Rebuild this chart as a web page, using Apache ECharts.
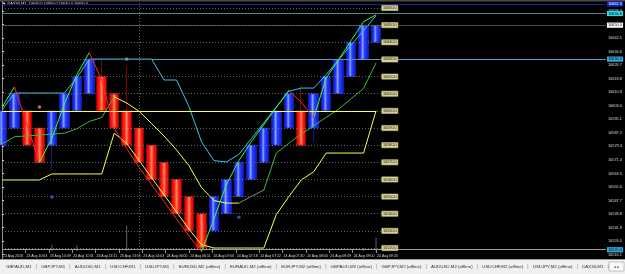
<!DOCTYPE html>
<html>
<head>
<meta charset="utf-8">
<script src="https://cdn.jsdelivr.net/npm/echarts@6/dist/echarts.min.js"></script>
<style>
  html, body { margin: 0; padding: 0; background: #000; }
  #chart { width: 625px; height: 274px; }
</style>
</head>
<body>
<div id="chart"></div>
<script>
// -----------------------------------------------------------------------------
// DAX30,M2 (offline renko) - briques + canaux + niveaux
// -----------------------------------------------------------------------------
const brickOpen = [10580, 10590, 10600, 10590, 10580, 10590, 10600, 10610, 10620, 10610, 10600,
  10590, 10580, 10570, 10560, 10550, 10540, 10530, 10540, 10550, 10560, 10570, 10580, 10590,
  10600, 10590, 10600, 10610, 10620, 10630, 10640];
const brickClose = [10600, 10610, 10580, 10570, 10600, 10610, 10620, 10630, 10600, 10590, 10580,
  10570, 10560, 10550, 10540, 10530, 10520, 10550, 10560, 10570, 10580, 10590, 10600, 10610,
  10580, 10610, 10620, 10630, 10640, 10650, 10650];
// meches visibles (index de brique -> extremite)
const wickBars = [8, 10, 24, 4, 25];
const wickEnds = [10630, 10626, 10615, 10565, 10582];

const zigzagLine = [10602, 10614, 10592, 10570, 10584, 10604, 10621, 10634, 10618, 10590, 10578,
  10567, 10557, 10547, 10537, 10527, 10518, 10537, 10557, 10571, 10582, 10592, 10602, 10612,
  10605, 10596, 10619, 10630, 10641, 10652, 10656];
const zigTurns = [0, 1, 3, 7, 16, 23, 25];   // debut de chaque jambe, la premiere monte

const cyanLine = [10600.5, 10610.4, 10610.4, 10610.4, 10610.4, 10610.4, 10619.2, 10630.2, 10630.2,
  10630.2, 10630.2, 10630.2, 10630.2, 10618, 10618, 10602.4, 10582, 10571, 10570.2, 10574.6,
  10583.8, 10593, 10602.2, 10611.4, 10613.3, 10613.3, 10621.1, 10629.7, 10638.4, 10646.9, 10655.6];

const lowerBand = [10559.7, 10559.7, 10559.7, 10559.7, 10563.2, 10563.2, 10563.2, 10563.2, 10563.2,
  10587, 10581, 10571, 10561, 10551, 10541, 10531, 10522, 10520, 10520, 10520, 10520, 10520,
  10539.5, 10549.9, 10559.7, 10564.5, 10575.4, 10575.4, 10575.4, 10575.4, 10600];

const maLine = [10580.7, 10584.9, 10585.4, 10585.9, 10586.4, 10587, 10589.5, 10593.8, 10596.1,
  10608.2, 10604.6, 10599.7, 10592.6, 10585.3, 10577.2, 10568, 10555.3, 10547.7, 10546.2, 10546.2,
  10550.1, 10553.8, 10575.4, 10581.1, 10586.5, 10591.3, 10596.2, 10601, 10607.1, 10613.1, 10628];
const maTurns = [0, 9, 19, 21];
const maTrend = ["up", "down", "flat", "up"];

const signalBars = [3, 4, 19, 10];
const signalPrices = [10602.2, 10549.7, 10538, 10630.2];

const volumeBars = [4, 6, 10, 29, 30];
const volumeValues = [3, 2.5, 12.5, 1.5, 6.5];

const gridLevels = [10660, 10650, 10640, 10630, 10620, 10610, 10600, 10590, 10580, 10570, 10560,
  10550, 10540, 10530, 10520];
const priceTicks = [10516.1, 10524.0, 10531.9, 10539.8, 10547.7, 10555.6, 10563.5, 10571.4, 10579.3,
  10587.2, 10595.1, 10603.0, 10610.9, 10618.8, 10626.7, 10634.6, 10642.5, 10650.4, 10658.3];
// lignes horizontales pleine largeur: prix + etiquette
const hLinePrices = [10662.3, 10656.8, 10650.0, 10630.2, 10519.0];
const hLineLabels = ["10662.3", "10656.8", "10650.0", "10630.2", "10520.0"];

const timeLabels = ["23 Aug 2016", "23 Aug 10:03", "23 Aug 10:49", "23 Aug 11:31", "23 Aug 13:11",
  "23 Aug 13:55", "23 Aug 14:03", "24 Aug 06:00", "24 Aug 06:11", "24 Aug 07:00", "24 Aug 07:18",
  "24 Aug 07:22", "24 Aug 07:40", "24 Aug 08:00", "24 Aug 08:49", "24 Aug 09:00", "24 Aug 09:20"];

const tabs = ["GBPAUD,M1", "GBPJPY,M1", "AUDUSD,M1", "USDCHF,M1", "USDJPY,M1", "EURUSD,M2 (offline)",
  "EURAUD,M2 (offline)", "EURJPY,M2 (offline)", "GBPAUD,M2 (offline)", "GBPJPY,M2 (offline)",
  "AUDUSD,M2 (offline)", "USDCHF,M2 (offline)", "USDJPY,M2 (offline)", "DAX30,M1"];
const title = "DAX30,M2  10640.0 10650.0 10640.0 10650.0";

// --- mise en page ---
const FONT = "'Liberation Sans', Arial, sans-serif";
const X_MAX = 48.44;
const LABEL_STEP = 1.875;
const Y_MAX = 10663.5;
const Y_MIN = 10513.6;
const LAST = brickOpen.length - 1;

const candles = brickOpen.map((o, i) => {
  const c = brickClose[i];
  let lo = Math.min(o, c);
  let hi = Math.max(o, c);
  const w = wickBars.indexOf(i);
  if (w >= 0) { lo = Math.min(lo, wickEnds[w]); hi = Math.max(hi, wickEnds[w]); }
  return [i, o, c, lo, hi];
});

const blueFill = new echarts.graphic.LinearGradient(0, 0, 1, 0, [
  { offset: 0, color: "#0812c8" }, { offset: 0.25, color: "#2038ff" }, { offset: 0.42, color: "#8ea4ff" },
  { offset: 0.58, color: "#2a44ff" }, { offset: 1, color: "#0812c8" }]);
const redFill = new echarts.graphic.LinearGradient(0, 0, 1, 0, [
  { offset: 0, color: "#c80000" }, { offset: 0.3, color: "#ff1a10" }, { offset: 0.52, color: "#ff8a60" },
  { offset: 0.7, color: "#ff1a10" }, { offset: 1, color: "#c80000" }]);

const GREEN = "#32ff32";
const RED = "#ff2424";
const zigPieces = zigTurns.map((t, k) => ({
  gte: t, lt: k + 1 < zigTurns.length ? zigTurns[k + 1] : X_MAX + 1, color: k % 2 === 0 ? GREEN : RED
}));
const trendColor = { up: "#3cb83c", down: "#ffff40", flat: "#8c8c8c" };
const maPieces = maTurns.map((t, k) => ({
  gte: t, lt: k + 1 < maTurns.length ? maTurns[k + 1] : X_MAX + 1, color: trendColor[maTrend[k]]
}));

const dotted = { color: "#8c8c8c", type: [1, 2], width: 0.7 };
const khaki = {
  show: true, position: "end", distance: 1, color: "#1a1a1a", backgroundColor: "#d6d196",
  borderColor: "#77773a", borderWidth: 0.5, padding: [0.6, 1.2], fontSize: 3.8, fontFamily: FONT
};
const hStyles = [
  { line: "#1420a8", bg: "#1226c8", fg: "#ffffff" },
  { line: "#4a8a8a", bg: "#2ee0e6", fg: "#000000" },
  { line: "#4a4a4a", bg: "#ffffff", fg: "#000000" },
  { line: "#5a96c8", bg: "#36a6e0", fg: "#000000" },
  { line: "#9a9a9a", bg: "#36a6e0", fg: "#000000" }
];
const hStart = [0, 0, 0, 12, 0];

const markData = [];
hLinePrices.forEach((p, i) => {
  const st = hStyles[i];
  markData.push([
    {
      coord: [hStart[i], p], lineStyle: { color: st.line, width: 1, type: "solid" },
      label: {
        show: true, position: "end", distance: 1, formatter: hLineLabels[i], color: st.fg,
        backgroundColor: st.bg, padding: [0.6, 1.2], fontSize: 3.8, fontFamily: FONT
      }
    },
    { coord: [X_MAX, p] }
  ]);
});
gridLevels.forEach((v) => {
  markData.push([
    { coord: [0, v], lineStyle: dotted, label: Object.assign({ formatter: v.toFixed(1) }, khaki) },
    { coord: [LAST + 0.38, v] }
  ]);
});
markData.push({ xAxis: 11, lineStyle: dotted, label: { show: false } });
markData.push([
  { coord: [0, lowerBand[LAST]], lineStyle: { color: "#ffff40", width: 1, type: "solid" }, label: { show: false } },
  { coord: [LAST, lowerBand[LAST]] }
]);

const signalStyles = [
  { color: "#f08878", symbol: "circle", size: 3.5 },
  { color: "#4a5ed8", symbol: "circle", size: 3.5 },
  { color: "#4a5ed8", symbol: "circle", size: 3.5 },
  { color: "#a0a0a0", symbol: "rect", size: 3 }
];

const pairs = (arr) => arr.map((v, i) => [i, v]);

// --- onglets du bas ---
const ctx = document.createElement("canvas").getContext("2d");
const TAB_FONT = 4.4;
const TAB_GAP = 9.6;
ctx.font = TAB_FONT + "px " + FONT;
const tabGraphics = [
  { type: "rect", shape: { x: 0, y: 259.5, width: 625, height: 14.5 }, style: { fill: "#f0f0f0" } },
  { type: "line", shape: { x1: 0, y1: 259.5, x2: 625, y2: 259.5 }, style: { stroke: "#9a9a9a", lineWidth: 1 } }
];
let tx = 6;
tabs.forEach((t) => {
  tabGraphics.push({
    type: "text",
    style: { x: tx, y: 266.8, text: t, fill: "#2e2e2e", font: TAB_FONT + "px " + FONT, verticalAlign: "middle" }
  });
  tx += ctx.measureText(t).width + TAB_GAP;
  tabGraphics.push({
    type: "text",
    style: { x: tx - TAB_GAP / 2, y: 266.6, text: "|", fill: "#8a8a8a", font: "5px " + FONT, align: "center", verticalAlign: "middle" }
  });
});
tabGraphics.push(
  { type: "rect", shape: { x: 609, y: 262, width: 15, height: 9 }, style: { fill: "#fafafa", stroke: "#a0a0a0", lineWidth: 0.6 } },
  { type: "text", style: { x: 616.5, y: 266.8, text: "◄ ►", fill: "#555", font: "3.6px DejaVu Sans", align: "center", verticalAlign: "middle" } }
);

const chart = echarts.init(document.getElementById("chart"));
chart.setOption({
  animation: false,
  backgroundColor: "#000",
  grid: { left: 1.5, right: 17, top: 2, bottom: 15 },
  xAxis: {
    type: "value", min: 0, max: X_MAX, offset: -10,
    axisLine: { show: false },
    axisTick: { show: true, length: 4, customValues: timeLabels.map((_, i) => i * LABEL_STEP), lineStyle: { color: "#b0b0b0", width: 0.8 } },
    axisLabel: {
      customValues: timeLabels.map((_, i) => i * LABEL_STEP),
      formatter: (v) => timeLabels[Math.round(v / LABEL_STEP)] || "",
      align: "left", color: "#d8d8d8", fontSize: 3.5, fontFamily: FONT, margin: 5, padding: [0, 0, 0, 1]
    },
    splitLine: { show: false }
  },
  yAxis: [
    {
      type: "value", position: "right", min: Y_MIN, max: Y_MAX,
      axisLine: { show: true, lineStyle: { color: "#c8c8c8", width: 1 } },
      axisTick: { show: true, length: 2, customValues: priceTicks, lineStyle: { color: "#c8c8c8" } },
      axisLabel: {
        customValues: priceTicks, formatter: (v) => v.toFixed(1),
        color: "#dcdcdc", fontSize: 3.9, fontFamily: FONT, margin: 2
      },
      splitLine: { show: false }
    },
    {
      type: "value", position: "left", min: Y_MIN, max: Y_MAX,
      axisLine: { show: true, lineStyle: { color: "#8a8a8a", width: 1 } },
      axisTick: { show: false }, axisLabel: { show: false }, splitLine: { show: false }
    },
    { type: "value", min: -4, max: 123, show: false }
  ],
  visualMap: [
    { show: false, type: "piecewise", seriesIndex: 2, dimension: 0, pieces: zigPieces },
    { show: false, type: "piecewise", seriesIndex: 5, dimension: 0, pieces: maPieces }
  ],
  graphic: [
    { type: "rect", shape: { x: 0, y: 0, width: 625, height: 1.5 }, style: { fill: "#4a4a4a" } },
    { type: "rect", shape: { x: 2.5, y: 2.6, width: 2.6, height: 2.6 }, style: { fill: "#c8c8c8" } },
    { type: "text", style: { x: 7.5, y: 4.1, text: title, fill: "#e0e0e0", font: "3.9px " + FONT, verticalAlign: "middle" } },
    ...tabGraphics
  ],
  series: [
    {
      type: "line", name: "niveaux", data: [], z: 1, silent: true,
      markLine: { symbol: ["none", "none"], silent: true, animation: false, label: { show: false }, data: markData }
    },
    {
      type: "candlestick", name: "renko", z: 3, data: candles,
      encode: { x: 0, y: [1, 2, 3, 4] }, barWidth: 10,
      itemStyle: { color: blueFill, color0: redFill, borderColor: "#1622b4", borderColor0: "#a80000", borderWidth: 0.8 }
    },
    { type: "line", name: "zigzag", data: pairs(zigzagLine), showSymbol: false, z: 5, lineStyle: { width: 1 } },
    { type: "line", name: "cyan", data: pairs(cyanLine), showSymbol: false, z: 4, lineStyle: { width: 1, color: "#2ec8ee" }, itemStyle: { color: "#2ec8ee" } },
    { type: "line", name: "bande", data: pairs(lowerBand), showSymbol: false, z: 4, lineStyle: { width: 1, color: "#ffff40" }, itemStyle: { color: "#ffff40" } },
    { type: "line", name: "moyenne", data: pairs(maLine), showSymbol: false, z: 4, lineStyle: { width: 1 } },
    {
      type: "scatter", name: "signaux", z: 6,
      data: signalBars.map((b, i) => ({
        value: [b, signalPrices[i]], symbol: signalStyles[i].symbol, symbolSize: signalStyles[i].size,
        itemStyle: { color: signalStyles[i].color }
      }))
    },
    {
      type: "bar", name: "volume", yAxisIndex: 2, barWidth: 1, z: 2,
      data: volumeBars.map((b, i) => [b, volumeValues[i]]),
      itemStyle: { color: "#4e6e4e" }
    }
  ]
});
</script>
</body>
</html>
